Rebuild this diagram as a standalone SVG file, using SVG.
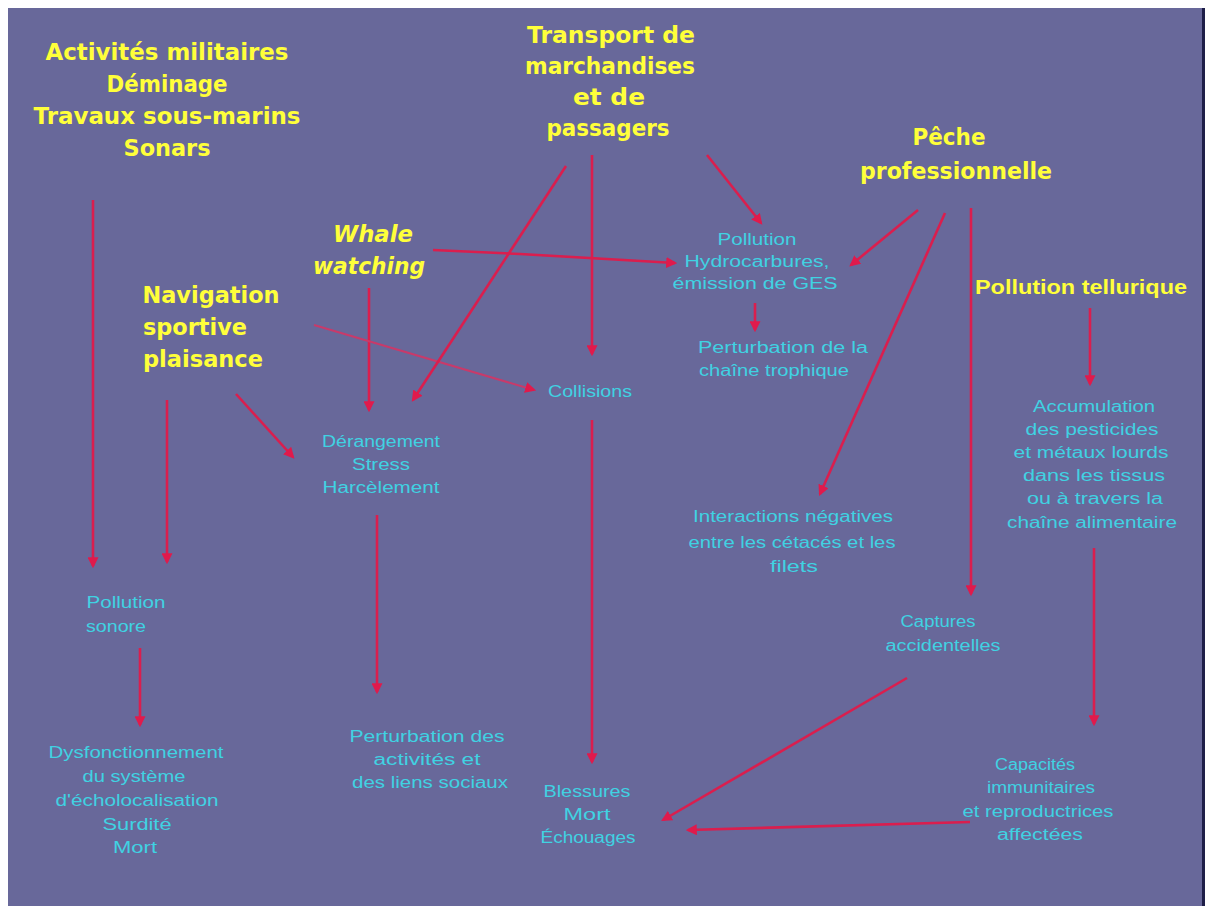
<svg xmlns="http://www.w3.org/2000/svg" width="1212" height="906" viewBox="0 0 1212 906">
<defs>
<style>
.y{fill:#FFFF3A;font-family:"DejaVu Sans","Liberation Sans",sans-serif;font-weight:bold;font-size:23px;text-anchor:middle}
.c{fill:#40D2E2;font-family:"Liberation Sans","DejaVu Sans",sans-serif;font-size:16px;text-anchor:middle}
.a{stroke:#DA1E4E;stroke-width:2.6;fill:none;marker-end:url(#h)}
.f{stroke:#C83A6A;stroke-width:2;fill:none;marker-end:url(#h)}
</style>
<marker id="h" viewBox="0 0 10 10" refX="8" refY="5" markerWidth="11" markerHeight="11" markerUnits="userSpaceOnUse" orient="auto">
<path d="M0,0 L10,5 L0,10 z" fill="#E01A4C"/>
</marker>
</defs>
<rect x="0" y="0" width="1212" height="906" fill="#ffffff"/>
<rect x="8" y="8" width="1195" height="898" fill="#68689A"/>
<rect x="1202" y="8" width="3" height="898" fill="#1E1E48"/>

<g id="connectors">
<line class="a" x1="93" y1="200" x2="93" y2="566"/>
<line class="a" x1="167" y1="400" x2="167" y2="562"/>
<line class="a" x1="236" y1="394" x2="293" y2="457"/>
<line class="a" x1="369" y1="288" x2="369" y2="410"/>
<polyline class="a" points="433,250 520,254 675,263"/>
<line class="f" x1="314" y1="325" x2="534" y2="390"/>
<line class="a" x1="566" y1="166" x2="413" y2="400"/>
<line class="a" x1="592" y1="155" x2="592" y2="354"/>
<line class="a" x1="707" y1="155" x2="761" y2="223"/>
<line class="a" x1="918" y1="210" x2="851" y2="265"/>
<line class="a" x1="945" y1="213" x2="820" y2="494"/>
<line class="a" x1="971" y1="208" x2="971" y2="594"/>
<line class="a" x1="755" y1="303" x2="755" y2="330"/>
<line class="a" x1="1090" y1="308" x2="1090" y2="384"/>
<line class="a" x1="1094" y1="548" x2="1094" y2="724"/>
<line class="a" x1="140" y1="648" x2="140" y2="725"/>
<line class="a" x1="377" y1="515" x2="377" y2="692"/>
<line class="a" x1="592" y1="420" x2="592" y2="762"/>
<line class="a" x1="907" y1="678" x2="663" y2="820"/>
<line class="a" x1="970" y1="822" x2="688" y2="830"/>
</g>

<g id="activites">
<text class="y" x="167" y="60" textLength="243" lengthAdjust="spacingAndGlyphs">Activités militaires</text>
<text class="y" x="167" y="92" textLength="121" lengthAdjust="spacingAndGlyphs">Déminage</text>
<text class="y" x="167" y="124" textLength="267" lengthAdjust="spacingAndGlyphs">Travaux sous-marins</text>
<text class="y" x="167" y="156" textLength="87" lengthAdjust="spacingAndGlyphs">Sonars</text>
</g>
<g id="transport">
<text class="y" x="611" y="43" textLength="168" lengthAdjust="spacingAndGlyphs">Transport de</text>
<text class="y" x="610" y="74" textLength="170" lengthAdjust="spacingAndGlyphs">marchandises</text>
<text class="y" x="609" y="105" textLength="72" lengthAdjust="spacingAndGlyphs">et de</text>
<text class="y" x="608" y="136" textLength="123" lengthAdjust="spacingAndGlyphs">passagers</text>
</g>
<g id="peche">
<text class="y" x="949" y="145" textLength="73" lengthAdjust="spacingAndGlyphs">Pêche</text>
<text class="y" x="956" y="179" textLength="192" lengthAdjust="spacingAndGlyphs">professionnelle</text>
</g>
<g id="tellurique">
<text x="975" y="294" font-family="Liberation Sans, Arial, sans-serif" font-weight="bold" font-size="21" fill="#FFFF3A" textLength="212" lengthAdjust="spacingAndGlyphs">Pollution tellurique</text>
</g>
<g id="whale">
<text class="y" x="373" y="242" font-style="italic" textLength="80" lengthAdjust="spacingAndGlyphs">Whale</text>
<text class="y" x="369" y="274" font-style="italic" textLength="112" lengthAdjust="spacingAndGlyphs">watching</text>
</g>
<g id="navigation">
<text class="y" x="211" y="303" textLength="137" lengthAdjust="spacingAndGlyphs">Navigation</text>
<text class="y" x="195" y="335" textLength="104" lengthAdjust="spacingAndGlyphs">sportive</text>
<text class="y" x="203" y="367" textLength="120" lengthAdjust="spacingAndGlyphs">plaisance</text>
</g>

<g id="pollution-hydro">
<text class="c" x="757" y="245" textLength="79" lengthAdjust="spacingAndGlyphs">Pollution</text>
<text class="c" x="757" y="267" textLength="145" lengthAdjust="spacingAndGlyphs">Hydrocarbures,</text>
<text class="c" x="755" y="289" textLength="165" lengthAdjust="spacingAndGlyphs">émission de GES</text>
</g>
<g id="chaine-trophique">
<text class="c" x="783" y="353" textLength="170" lengthAdjust="spacingAndGlyphs">Perturbation de la</text>
<text class="c" x="774" y="376" textLength="150" lengthAdjust="spacingAndGlyphs">chaîne trophique</text>
</g>
<g id="collisions">
<text class="c" x="590" y="397" textLength="84" lengthAdjust="spacingAndGlyphs">Collisions</text>
</g>
<g id="derangement">
<text class="c" x="381" y="447" textLength="118" lengthAdjust="spacingAndGlyphs">Dérangement</text>
<text class="c" x="381" y="470" textLength="58" lengthAdjust="spacingAndGlyphs">Stress</text>
<text class="c" x="381" y="493" textLength="117" lengthAdjust="spacingAndGlyphs">Harcèlement</text>
</g>
<g id="pollution-sonore">
<text class="c" x="126" y="608" textLength="79" lengthAdjust="spacingAndGlyphs">Pollution</text>
<text class="c" x="116" y="632" textLength="60" lengthAdjust="spacingAndGlyphs">sonore</text>
</g>
<g id="dysfonctionnement">
<text class="c" x="136" y="758" textLength="175" lengthAdjust="spacingAndGlyphs">Dysfonctionnement</text>
<text class="c" x="134" y="782" textLength="103" lengthAdjust="spacingAndGlyphs">du système</text>
<text class="c" x="137" y="806" textLength="163" lengthAdjust="spacingAndGlyphs">d'écholocalisation</text>
<text class="c" x="137" y="830" textLength="69" lengthAdjust="spacingAndGlyphs">Surdité</text>
<text class="c" x="135" y="853" textLength="44" lengthAdjust="spacingAndGlyphs">Mort</text>
</g>
<g id="perturbation-activites">
<text class="c" x="427" y="742" textLength="155" lengthAdjust="spacingAndGlyphs">Perturbation des</text>
<text class="c" x="427" y="765" textLength="107" lengthAdjust="spacingAndGlyphs">activités et</text>
<text class="c" x="430" y="788" textLength="156" lengthAdjust="spacingAndGlyphs">des liens sociaux</text>
</g>
<g id="blessures">
<text class="c" x="587" y="797" textLength="87" lengthAdjust="spacingAndGlyphs">Blessures</text>
<text class="c" x="587" y="820" textLength="47" lengthAdjust="spacingAndGlyphs">Mort</text>
<text class="c" x="588" y="843" textLength="95" lengthAdjust="spacingAndGlyphs">Échouages</text>
</g>
<g id="interactions">
<text class="c" x="793" y="522" textLength="200" lengthAdjust="spacingAndGlyphs">Interactions négatives</text>
<text class="c" x="792" y="548" textLength="207" lengthAdjust="spacingAndGlyphs">entre les cétacés et les</text>
<text class="c" x="794" y="572" textLength="48" lengthAdjust="spacingAndGlyphs">filets</text>
</g>
<g id="captures">
<text class="c" x="938" y="627" textLength="75" lengthAdjust="spacingAndGlyphs">Captures</text>
<text class="c" x="943" y="651" textLength="115" lengthAdjust="spacingAndGlyphs">accidentelles</text>
</g>
<g id="accumulation">
<text class="c" x="1094" y="412" textLength="122" lengthAdjust="spacingAndGlyphs">Accumulation</text>
<text class="c" x="1092" y="435" textLength="133" lengthAdjust="spacingAndGlyphs">des pesticides</text>
<text class="c" x="1091" y="458" textLength="155" lengthAdjust="spacingAndGlyphs">et métaux lourds</text>
<text class="c" x="1094" y="481" textLength="142" lengthAdjust="spacingAndGlyphs">dans les tissus</text>
<text class="c" x="1095" y="504" textLength="136" lengthAdjust="spacingAndGlyphs">ou à travers la</text>
<text class="c" x="1092" y="528" textLength="170" lengthAdjust="spacingAndGlyphs">chaîne alimentaire</text>
</g>
<g id="capacites">
<text class="c" x="1035" y="770" textLength="80" lengthAdjust="spacingAndGlyphs">Capacités</text>
<text class="c" x="1041" y="793" textLength="108" lengthAdjust="spacingAndGlyphs">immunitaires</text>
<text class="c" x="1038" y="817" textLength="151" lengthAdjust="spacingAndGlyphs">et reproductrices</text>
<text class="c" x="1040" y="840" textLength="86" lengthAdjust="spacingAndGlyphs">affectées</text>
</g>
</svg>
